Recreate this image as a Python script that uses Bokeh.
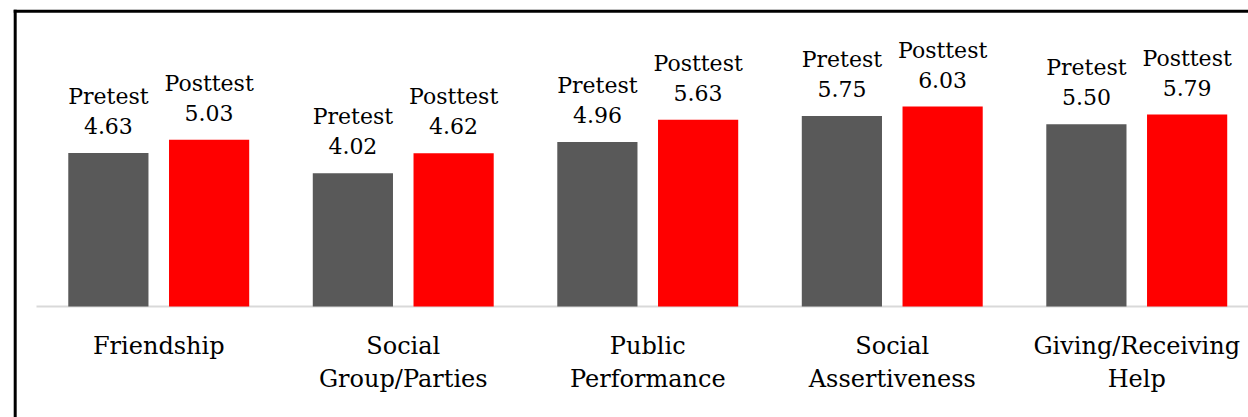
from bokeh.plotting import figure
from bokeh.models import Range1d
from bokeh.core.properties import value
from bokeh.embed import file_html
from bokeh.resources import INLINE

# ---- data ----
categories = ["Friendship", "Social\nGroup/Parties", "Public\nPerformance",
              "Social\nAssertiveness", "Giving/Receiving\nHelp"]
series_names = ["Pretest", "Posttest"]
pretest = [4.63, 4.02, 4.96, 5.75, 5.50]
posttest = [5.03, 4.62, 5.63, 6.03, 5.79]
series_values = [pretest, posttest]
colors = ["#595959", "#FF0000"]

# ---- layout constants ----
W, H = 1248, 417
X_LO, X_HI = -0.1472, 4.957          # category units (visible part of the axis)
Y_LO, Y_HI = -3.348, 9.231
PX_X = W / (X_HI - X_LO)
PX_Y = H / (Y_HI - Y_LO)
BAR_W = 0.328
DODGE = 0.206
FONT = value("DejaVu Serif")

p = figure(width=W, height=H, x_range=Range1d(X_LO, X_HI), y_range=Range1d(Y_LO, Y_HI),
           output_backend="svg", toolbar_location=None,
           x_axis_location=None, y_axis_location=None, min_border=0)
p.min_border_left = p.min_border_right = p.min_border_top = p.min_border_bottom = 0
p.grid.visible = False
p.outline_line_color = None
p.background_fill_color = "white"
p.border_fill_color = "white"

n = len(categories)
centers = [i + 0.5 for i in range(n)]

# baseline (category axis line)
p.segment(x0=[0], y0=[0], x1=[n], y1=[0], line_color="#d9d9d9", line_width=2)

# bars + data labels
for j, (name, vals, col) in enumerate(zip(series_names, series_values, colors)):
    off = -DODGE if j == 0 else DODGE
    xs = [c + off for c in centers]
    p.vbar(x=xs, top=vals, bottom=0, width=BAR_W, fill_color=col, line_color=None)
    p.text(x=xs, y=vals, text=[f"{name}\n{v:.2f}" for v in vals],
           text_align="center", text_baseline="bottom", y_offset=-14,
           text_font=FONT, text_font_size="22px", text_line_height=1.2,
           text_color="#000000")

# category labels
p.text(x=centers, y=[0] * n, text=categories, text_align="center", text_baseline="top",
       y_offset=25, text_font=FONT, text_font_size="24px", text_line_height=1.2,
       text_color="#000000")

# chart border (left and top edges of the surrounding box)
BX = X_LO + 14.7 / PX_X
BY = Y_HI - 10.7 / PX_Y
p.segment(x0=[BX, BX], y0=[Y_LO, BY], x1=[BX, X_HI], y1=[BY, BY],
          line_color="black", line_width=3, line_cap="square")

open("out.html", "w").write(file_html(p, INLINE))
